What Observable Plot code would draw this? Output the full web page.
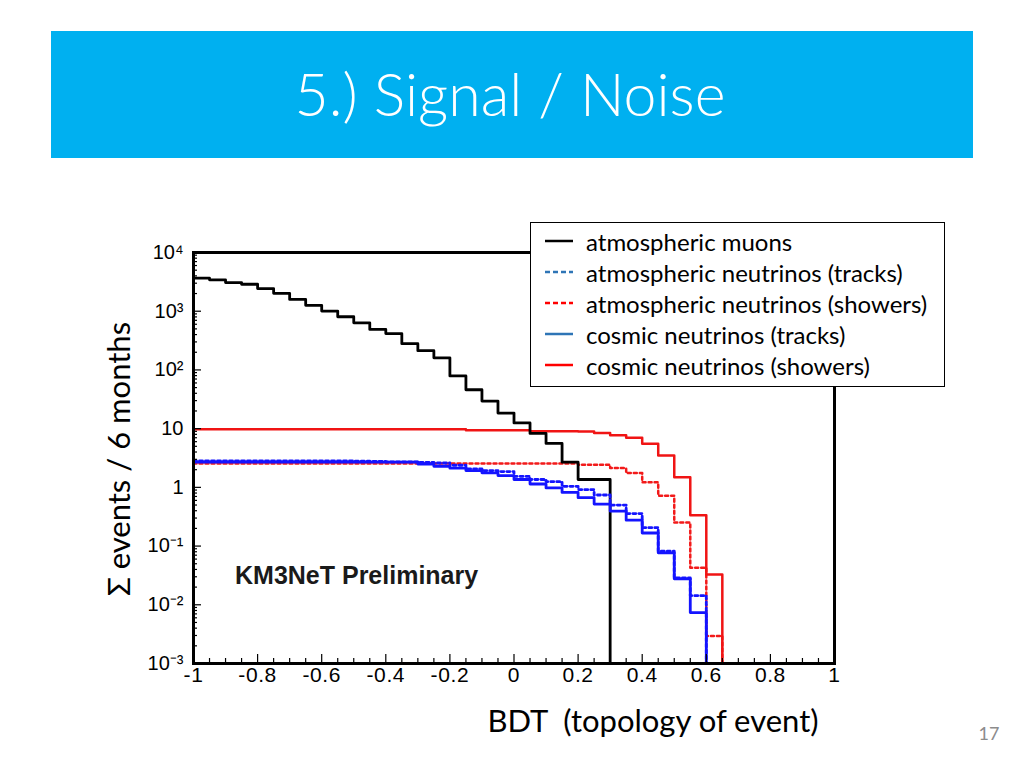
<!DOCTYPE html>
<html>
<head>
<meta charset="utf-8">
<script src="https://cdn.jsdelivr.net/npm/d3@7"></script>
<script src="https://cdn.jsdelivr.net/npm/@observablehq/plot@0.6"></script>
<style>
  body { margin: 0; background: #fff; }
  #page { position: relative; width: 1024px; height: 768px; overflow: hidden; font-family: Lato, "Open Sans", sans-serif; }
  #banner { position: absolute; left: 51px; top: 31px; width: 922px; height: 127px; background: #00B0F0;
            display: flex; align-items: center; justify-content: center; }
  #title { color: #fff; font-family: Lato, sans-serif; font-weight: 300; font-size: 59px; line-height: 1; margin-top: -2px; margin-left: -4px; }
  #chart { position: absolute; left: 140px; top: 215px; }
  #chart svg g[aria-label="x-axis tick label"] text { letter-spacing: 0.6px; }
  #ylabel { position: absolute; left: 118px; top: 459px; transform: translate(-50%, -50%) rotate(-90deg);
            white-space: pre; font-size: 31px; color: #000; }
  #xlabel { position: absolute; left: 653px; top: 720px; transform: translate(-50%, -50%);
            white-space: pre; font-size: 31px; color: #000; }
  #pagenum { position: absolute; left: 989px; top: 733px; transform: translate(-50%, -50%); font-size: 18px; color: #8c8c8c; }
  #prelim { position: absolute; left: 235px; top: 575px; transform: translate(0, -50%);
            font-family: "Liberation Sans", Arial, sans-serif; font-weight: bold; font-size: 25px; color: #1a1a1a; white-space: pre; }
  #legend { position: absolute; left: 530px; top: 222px; width: 413px; height: 163px; background: #fff;
            border: 1px solid #000; z-index: 5; }
  .row { position: absolute; left: 0; height: 30px; display: flex; align-items: center; }
  .row svg { margin-left: 14px; margin-right: 13px; }
  .row span { font-size: 24px; color: #000; white-space: pre; }
</style>
</head>
<body>
<div id="page">
  <div id="banner"><div id="title">5.) Signal / Noise</div></div>
  <div id="chart"></div>
  <div id="ylabel">Σ events / 6 months</div>
  <div id="xlabel">BDT  (topology of event)</div>
  <div id="prelim">KM3NeT Preliminary</div>
  <div id="legend"></div>
  <div id="pagenum">17</div>
</div>
<script>
// ---- data ----
const binStarts = [-1.00, -0.95, -0.90, -0.85, -0.80, -0.75, -0.70, -0.65, -0.60, -0.55,
                   -0.50, -0.45, -0.40, -0.35, -0.30, -0.25, -0.20, -0.15, -0.10, -0.05,
                    0.00,  0.05,  0.10,  0.15,  0.20,  0.25,  0.30,  0.35,  0.40,  0.45,
                    0.50,  0.55,  0.60,  0.65,  0.70,  0.75,  0.80,  0.85,  0.90,  0.95];
const binEnd = 1.0;

const atmMuons = [3650, 3420, 3080, 2880, 2430, 2020, 1590, 1260, 1005, 805,
                  635, 490, 416, 280, 213, 161, 79, 46, 29.5, 18.4,
                  12.5, 8.3, 5.6, 2.68, 1.36, 1.36, 0, 0, 0, 0,
                  0, 0, 0, 0, 0, 0, 0, 0, 0, 0];
const atmNuTracks = [2.82, 2.82, 2.82, 2.82, 2.82, 2.82, 2.82, 2.82, 2.82, 2.82,
                     2.80, 2.78, 2.72, 2.72, 2.66, 2.60, 2.38, 2.07, 1.93, 1.86,
                     1.54, 1.36, 1.25, 1.04, 0.913, 0.741, 0.499, 0.358, 0.206, 0.082,
                     0.0286, 0.0143, 0, 0, 0, 0, 0, 0, 0, 0];
const atmNuShowers = [2.56, 2.56, 2.56, 2.56, 2.56, 2.56, 2.56, 2.56, 2.56, 2.56,
                      2.56, 2.56, 2.56, 2.56, 2.56, 2.56, 2.56, 2.56, 2.56, 2.56,
                      2.55, 2.55, 2.55, 2.55, 2.42, 2.42, 2.13, 1.75, 1.22, 0.72,
                      0.251, 0.0428, 0.00294, 0, 0, 0, 0, 0, 0, 0];
const cosNuTracks = [2.68, 2.68, 2.68, 2.68, 2.68, 2.68, 2.68, 2.68, 2.68, 2.68,
                     2.68, 2.68, 2.68, 2.68, 2.50, 2.29, 2.12, 1.93, 1.77, 1.59,
                     1.36, 1.14, 0.977, 0.82, 0.666, 0.519, 0.394, 0.276, 0.167, 0.0767,
                     0.0277, 0.00738, 0, 0, 0, 0, 0, 0, 0, 0];
const cosNuShowers = [9.77, 9.77, 9.77, 9.77, 9.77, 9.77, 9.77, 9.77, 9.77, 9.77,
                      9.77, 9.77, 9.77, 9.77, 9.77, 9.77, 9.77, 9.40, 9.40, 9.40,
                      9.40, 9.00, 9.00, 9.00, 8.90, 8.40, 7.70, 7.03, 5.55, 3.50,
                      1.48, 0.336, 0.0327, 0, 0, 0, 0, 0, 0, 0];

const seriesNames = ["atmospheric muons", "atmospheric neutrinos (tracks)", "atmospheric neutrinos (showers)",
                     "cosmic neutrinos (tracks)", "cosmic neutrinos (showers)"];

const xTicks = [-1, -0.8, -0.6, -0.4, -0.2, 0, 0.2, 0.4, 0.6, 0.8, 1];
const xTickLabels = ["-1", "-0.8", "-0.6", "-0.4", "-0.2", "0", "0.2", "0.4", "0.6", "0.8", "1"];
const yTicks = [1e-3, 1e-2, 1e-1, 1, 10, 100, 1000, 10000];
const yTickLabels = ["10⁻³", "10⁻²", "10⁻¹", "1", "10", "10²", "10³", "10⁴"];
const yDomain = [1e-3, 1e4];

// ---- helpers ----
function histPoints(values) {
  const floor = yDomain[0];
  const pts = binStarts.map((x, i) => ({x, y: Math.max(values[i], floor)}));
  pts.push({x: binEnd, y: floor});
  return pts;
}
const labelFor = (ticks, labels) => d => {
  const i = ticks.findIndex(t => Math.abs(t - d) <= Math.abs(t) * 1e-6 + 1e-12);
  return i >= 0 ? labels[i] : "";
};
const xMinor = binStarts.filter(v => !xTicks.some(t => Math.abs(t - v) < 1e-9));
const yMinor = [];
for (let e = -3; e < 4; e++) for (let m = 2; m <= 9; m++) yMinor.push(m * Math.pow(10, e));

const chart = Plot.plot({
  width: 720,
  height: 480,
  marginLeft: 53,
  marginRight: 26,
  marginTop: 37,
  marginBottom: 32,
  style: {background: "transparent", fontFamily: "'Liberation Sans', Arial, sans-serif", fontSize: "20px", color: "#000", overflow: "visible"},
  x: {domain: [-1, 1], label: null},
  y: {type: "log", domain: yDomain, label: null},
  marks: [
    Plot.line(histPoints(atmNuShowers), {x: "x", y: "y", curve: "step-after", stroke: "#f21a1a", strokeWidth: 2.5, strokeDasharray: "3,3"}),
    Plot.line(histPoints(cosNuShowers), {x: "x", y: "y", curve: "step-after", stroke: "#f01414", strokeWidth: 2.5}),
    Plot.line(histPoints(atmMuons), {x: "x", y: "y", curve: "step-after", stroke: "#000", strokeWidth: 2.8}),
    Plot.line(histPoints(cosNuTracks), {x: "x", y: "y", curve: "step-after", stroke: "#1414ff", strokeWidth: 2.8}),
    Plot.line(histPoints(atmNuTracks), {x: "x", y: "y", curve: "step-after", stroke: "#1414ff", strokeWidth: 2.8, strokeDasharray: "3,3"}),
    Plot.axisX({ticks: xMinor, tickSize: -5, tickFormat: () => "", label: null, strokeWidth: 1.2}),
    Plot.axisX({ticks: xTicks, tickSize: -9, tickPadding: 13, tickFormat: labelFor(xTicks, xTickLabels), label: null, strokeWidth: 1.2, fontSize: 21}),
    Plot.axisY({ticks: yMinor, tickSize: -4, tickFormat: () => "", label: null, strokeWidth: 1.2}),
    Plot.axisY({ticks: yTicks, tickSize: -8, tickPadding: 18, tickFormat: labelFor(yTicks, yTickLabels), label: null, strokeWidth: 1.2, fontSize: 20}),
    Plot.frame({stroke: "#000", strokeWidth: 3})
  ]
});
document.getElementById("chart").appendChild(chart);

// ---- legend ----
const legendColors = ["#000", "#2e75b6", "#ff0000", "#2e75b6", "#ff0000"];
const legendDash = [null, "5,3", "5,3", null, null];
const legend = document.getElementById("legend");
seriesNames.forEach((name, i) => {
  const row = document.createElement("div");
  row.className = "row";
  row.style.top = (3 + i * 31) + "px";
  row.innerHTML = `<svg width="28" height="10"><line x1="0" x2="28" y1="5" y2="5" stroke="${legendColors[i]}" stroke-width="2.5" ${legendDash[i] ? `stroke-dasharray="${legendDash[i]}"` : ""}/></svg><span>${name}</span>`;
  legend.appendChild(row);
});
</script>
</body>
</html>
